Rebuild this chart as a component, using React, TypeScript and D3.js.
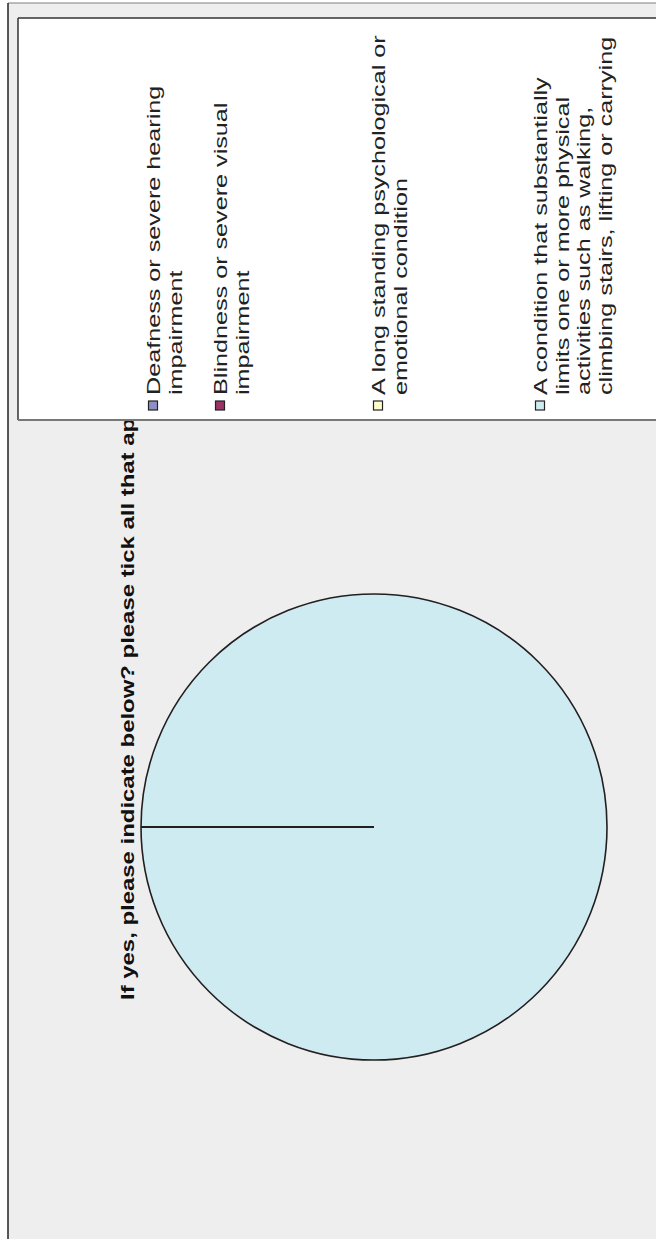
import React from "react";
import * as d3 from "d3";

const title = "If yes, please indicate below?  please tick all that apply";
const categories = [
  ["Deafness or severe hearing", "impairment"],
  ["Blindness or severe visual", "impairment"],
  ["A long standing psychological or", "emotional condition"],
  ["A condition that substantially", "limits one or more physical", "activities such as walking,", "climbing stairs, lifting or carrying"],
];
const values = [0, 0, 0, 1];
const colors = ["#8f8fc6", "#993366", "#ffffcc", "#cfebf2"];

const W = 656, H = 1239;
const FONT = "'Liberation Sans', Arial, sans-serif";
const STRETCH = 1.4;

export default function App() {
  const cx = 374, cy = 827, r = 233;
  const pie = d3.pie<number>().sort(null).value((d) => d)(values);
  const arc = d3.arc<d3.PieArcDatum<number>>().innerRadius(0).outerRadius(r);

  const itemStart = [160, 227, 385, 547];
  const lineStep = 21.5;

  return (
    <svg width={W} height={H} style={{ position: "absolute", left: 0, top: 0, display: "block" }}>
      <rect x={0} y={0} width={W} height={H} fill="#ffffff" />
      {/* outer frame */}
      <rect x={8} y={3} width={W + 20} height={H + 20} fill="#eeeeee" />
      <line x1={8} y1={3} x2={W} y2={3} stroke="#808080" strokeWidth={1.2} />
      <line x1={8} y1={3} x2={8} y2={H} stroke="#222" strokeWidth={1.5} />

      {/* title */}
      <text
        transform={`translate(134,1000) rotate(-90) scale(1.33,1)`}
        fontFamily={FONT}
        fontSize={18}
        fontWeight="bold"
        fill="#111"
      >
        {title}
      </text>

      {/* pie (rotated -90 so 12 o'clock points left) */}
      <g transform={`translate(${cx},${cy}) rotate(-90)`}>
        {pie.map((p, i) =>
          p.value > 0 ? (
            <path key={i} d={arc(p) || ""} fill={colors[i]} stroke="#231f20" strokeWidth={1.6} />
          ) : null
        )}
        {pie.map((p, i) =>
          p.value > 0 ? (
            <line
              key={"l" + i}
              x1={0}
              y1={0}
              x2={r * Math.sin(p.startAngle)}
              y2={-r * Math.cos(p.startAngle)}
              stroke="#231f20"
              strokeWidth={2}
            />
          ) : null
        )}
      </g>

      {/* legend box */}
      <rect x={18} y={18} width={W} height={402} fill="#ffffff" />
      <line x1={18} y1={18} x2={W} y2={18} stroke="#333" strokeWidth={1.5} />
      <line x1={18} y1={18} x2={18} y2={420} stroke="#333" strokeWidth={1.5} />
      <line x1={18} y1={420} x2={W} y2={420} stroke="#777" strokeWidth={1.8} />

      {categories.map((lines, i) => (
        <g key={i}>
          <rect
            x={itemStart[i] - 11.5}
            y={401}
            width={9}
            height={9}
            fill={colors[i]}
            stroke="#222"
            strokeWidth={1.2}
          />
          {lines.map((ln, j) => (
            <text
              key={j}
              transform={`translate(${itemStart[i] + j * lineStep},${395}) rotate(-90) scale(${STRETCH},1)`}
              fontFamily={FONT}
              fontSize={18}
              fill="#222"
            >
              {ln}
            </text>
          ))}
        </g>
      ))}
    </svg>
  );
}
